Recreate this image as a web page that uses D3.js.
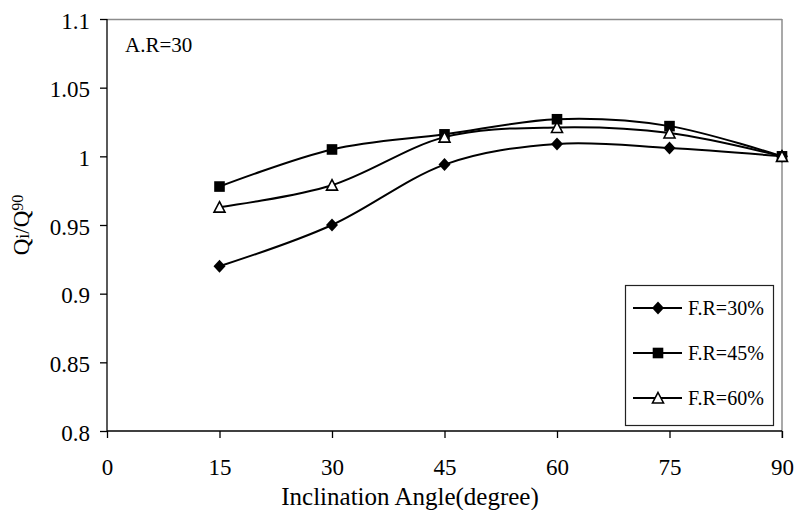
<!DOCTYPE html>
<html>
<head>
<meta charset="utf-8">
<script src="https://cdn.jsdelivr.net/npm/d3@7"></script>
<style>
  body { margin: 0; background: #fff; }
  #chart { width: 796px; height: 510px; }
</style>
</head>
<body>
<div id="chart"></div>
<script>
//Datos
const angles = [15, 30, 45, 60, 75, 90];
const fr30 = [0.920, 0.950, 0.994, 1.009, 1.006, 1.000];
const fr45 = [0.978, 1.005, 1.016, 1.027, 1.022, 1.000];
const fr60 = [0.963, 0.979, 1.014, 1.021, 1.017, 1.000];
const seriesNames = ['F.R=30%', 'F.R=45%', 'F.R=60%'];
const xTicks = [0, 15, 30, 45, 60, 75, 90];
const yTicks = [0.8, 0.85, 0.9, 0.95, 1, 1.05, 1.1];

const FONT = 'Liberation Serif';

let series = [
    { name: seriesNames[0], values: fr30, marker: 'diamond' },
    { name: seriesNames[1], values: fr45, marker: 'square' },
    { name: seriesNames[2], values: fr60, marker: 'triangle' }
];

let margin = {top: 19, right: 14, bottom: 79, left: 107},
    width = 796 - margin.left - margin.right,
    height = 510 - margin.top - margin.bottom;

let svg = d3.select('#chart')
    .append('svg')
      .attr('width', width + margin.left + margin.right)
      .attr('height', height + margin.top + margin.bottom)
      .attr('font-family', FONT)
    .append('g')
      .attr('transform', 'translate(' + margin.left + ',' + margin.top + ')');

let x = d3.scaleLinear().domain([0, 90]).range([0, width]);
let y = d3.scaleLinear().domain([0.8, 1.1]).range([height, 0]);

//Marco gris arriba y derecha
svg.append('line').attr('x1', 0).attr('x2', width).attr('y1', 0.5).attr('y2', 0.5)
    .attr('stroke', '#8c8c8c').attr('stroke-width', 1.5);
svg.append('line').attr('x1', width).attr('x2', width).attr('y1', 0).attr('y2', height + 7)
    .attr('stroke', '#8c8c8c').attr('stroke-width', 1.5);

//Ejes
let xAxis = svg.append('g')
    .attr('transform', 'translate(0,' + height + ')')
    .call(d3.axisBottom(x).tickValues(xTicks).tickSize(7).tickPadding(21).tickFormat(d3.format('d')));

let yAxis = svg.append('g')
    .call(d3.axisLeft(y).tickValues(yTicks).tickSize(7).tickPadding(10).tickFormat(function(d) { return String(+d.toFixed(2)); }));

xAxis.attr('font-family', FONT).attr('font-size', 23);
yAxis.attr('font-family', FONT).attr('font-size', 23);
svg.selectAll('.tick text').attr('font-family', FONT).attr('font-size', 23).attr('fill', '#000');
yAxis.selectAll('text').attr('dy', '0.4em');

svg.selectAll('.domain').attr('stroke', '#000').attr('stroke-width', 1.3);
svg.selectAll('.tick line').attr('stroke', '#000').attr('stroke-width', 1.3);
xAxis.select('.domain').attr('d', 'M0,0H' + width);
yAxis.select('.domain').attr('d', 'M0,0V' + height);

//Lineas
let line = d3.line()
    .x(function(d, i) { return x(angles[i]); })
    .y(function(d) { return y(d); })
    .curve(d3.curveCardinal.tension(0));

series.forEach(function(s) {
    svg.append('path')
        .datum(s.values)
        .attr('fill', 'none')
        .attr('stroke', '#000')
        .attr('stroke-width', 2)
        .attr('d', line);
});

//Marcadores
function drawMarker(g, type, cx, cy) {
    if (type == 'diamond') {
        g.append('path').attr('d', 'M' + cx + ',' + (cy - 6.5) + 'L' + (cx + 6) + ',' + cy + 'L' + cx + ',' + (cy + 6.5) + 'L' + (cx - 6) + ',' + cy + 'Z')
            .attr('fill', '#000');
    } else if (type == 'square') {
        g.append('rect').attr('x', cx - 5.3).attr('y', cy - 5.3).attr('width', 10.6).attr('height', 10.6)
            .attr('fill', '#000');
    } else {
        g.append('path').attr('d', 'M' + cx + ',' + (cy - 5.5) + 'L' + (cx + 5.5) + ',' + (cy + 5) + 'L' + (cx - 5.5) + ',' + (cy + 5) + 'Z')
            .attr('fill', '#fff').attr('stroke', '#000').attr('stroke-width', 1.6);
    }
}

series.forEach(function(s) {
    let g = svg.append('g');
    s.values.forEach(function(v, i) {
        drawMarker(g, s.marker, x(angles[i]), y(v));
    });
});

//Anotacion
svg.append('text').attr('x', 18).attr('y', 33)
    .attr('font-family', FONT).attr('font-size', 21).text('A.R=30');

//Leyenda
let legend = svg.append('g').attr('transform', 'translate(' + (625 - margin.left) + ',' + (285 - margin.top) + ')');
legend.append('rect').attr('x', 0.5).attr('y', 0.5).attr('width', 148).attr('height', 140)
    .attr('fill', '#fff').attr('stroke', '#222').attr('stroke-width', 1.2);
series.forEach(function(s, i) {
    let ly = 23 + i * 45;
    legend.append('line').attr('x1', 8).attr('x2', 57).attr('y1', ly).attr('y2', ly)
        .attr('stroke', '#000').attr('stroke-width', 2);
    drawMarker(legend, s.marker, 33, ly);
    legend.append('text').attr('x', 63).attr('y', ly).attr('dy', '0.35em')
        .attr('font-family', FONT).attr('font-size', 20).text(s.name);
});

//Titulos de ejes
svg.append('text')
    .attr('x', 303).attr('y', height + 74)
    .attr('text-anchor', 'middle')
    .attr('font-family', FONT).attr('font-size', 25)
    .text('Inclination Angle(degree)');

let yTitle = svg.append('text')
    .attr('transform', 'translate(' + (-78) + ',' + 206 + ') rotate(-90)')
    .attr('text-anchor', 'middle')
    .attr('font-family', FONT).attr('font-size', 23);
yTitle.append('tspan').text('Q');
yTitle.append('tspan').attr('font-size', 18).text('i');
yTitle.append('tspan').text('/Q');
yTitle.append('tspan').attr('font-size', 16).attr('dy', -6).text('90');
</script>
</body>
</html>
